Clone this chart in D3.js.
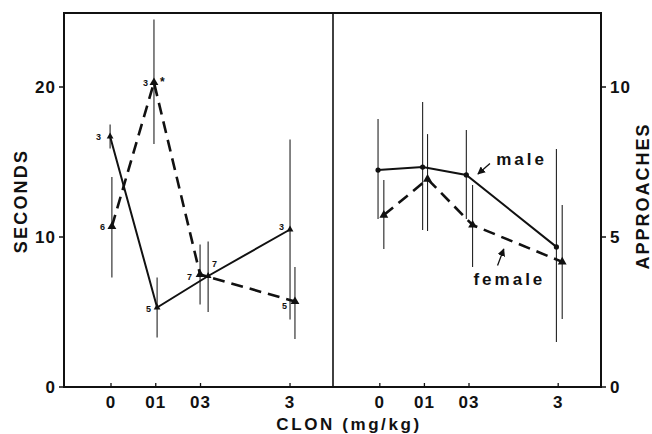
<!DOCTYPE html>
<html>
<head>
<meta charset="utf-8">
<script src="https://cdn.jsdelivr.net/npm/d3@7"></script>
<style>
  html, body { margin: 0; padding: 0; background: #fff; }
  svg { display: block; font-family: "Liberation Sans", Arial, sans-serif; }
</style>
</head>
<body>
<svg id="chart" width="652" height="434"></svg>
<script>
const doseLabels = ["0", "01", "03", "3"];
const doseRank = [0, 1, 2, 4];

// left panel: SECONDS
const secMaleRank = [-0.02, 1.03, 2.17, 4.0];
const secMale = [16.7, 5.3, 7.4, 10.5];
const secMaleLo = [15.9, 3.3, 5.0, 4.5];
const secMaleHi = [17.5, 7.3, 9.7, 16.5];
const secMaleN = ["3", "5", "7", "3"];

const secFemaleRank = [0.02, 0.96, 1.99, 4.11];
const secFemale = [10.7, 20.3, 7.5, 5.7];
const secFemaleLo = [7.3, 16.2, 5.5, 3.2];
const secFemaleHi = [14.0, 24.5, 9.5, 8.0];
const secFemaleN = ["6", "3", "7", "5"];

// right panel: APPROACHES
const appMaleRank = [-0.04, 0.96, 1.94, 3.96];
const appMale = [7.23, 7.33, 7.07, 4.67];
const appMaleLo = [5.6, 5.23, 5.6, 1.5];
const appMaleHi = [8.93, 9.5, 8.57, 7.93];

const appFemaleRank = [0.09, 1.07, 2.08, 4.09];
const appFemale = [5.73, 6.93, 5.4, 4.17];
const appFemaleLo = [4.6, 5.2, 4.0, 2.27];
const appFemaleHi = [6.9, 8.43, 6.73, 6.07];

const secTicks = [0, 10, 20];
const appTicks = [0, 5, 10];

const svg = d3.select("#chart");

const plotTop = 13, plotBottom = 387;
const leftX0 = 64, midX = 333, rightX1 = 601;

const xLeft = d3.scaleLinear().domain([-1.05, 4.96]).range([leftX0, midX]);
const xRight = d3.scaleLinear().domain([-1.05, 4.96]).range([midX, rightX1]);
const ySec = d3.scaleLinear().domain([0, 25]).range([plotBottom, plotTop - 1]);
const yApp = d3.scaleLinear().domain([0, 12.5]).range([plotBottom, plotTop - 1]);

function series(rank, val, lo, hi) {
  return rank.map((r, i) => ({ r, v: val[i], lo: lo[i], hi: hi[i] }));
}

const panels = [
  {
    x: xLeft, y: ySec,
    male: series(secMaleRank, secMale, secMaleLo, secMaleHi),
    female: series(secFemaleRank, secFemale, secFemaleLo, secFemaleHi),
    maleMarker: "tri"
  },
  {
    x: xRight, y: yApp,
    male: series(appMaleRank, appMale, appMaleLo, appMaleHi),
    female: series(appFemaleRank, appFemale, appFemaleLo, appFemaleHi),
    maleMarker: "dot"
  }
];

panels.forEach(p => {
  const g = svg.append("g");
  const line = d3.line().x(d => p.x(d.r)).y(d => p.y(d.v));

  // error bars
  [p.male, p.female].forEach(s => {
    g.selectAll(null).data(s).enter().append("line")
      .attr("x1", d => p.x(d.r)).attr("x2", d => p.x(d.r))
      .attr("y1", d => p.y(d.lo)).attr("y2", d => p.y(d.hi))
      .attr("stroke", "#222").attr("stroke-width", 1.1);
  });

  g.append("path").datum(p.female)
    .attr("d", line).attr("fill", "none")
    .attr("stroke", "#111").attr("stroke-width", 2.6)
    .attr("stroke-dasharray", "12,7");

  g.append("path").datum(p.male)
    .attr("d", line).attr("fill", "none")
    .attr("stroke", "#111").attr("stroke-width", 2);

  g.selectAll(null).data(p.female).enter().append("path")
    .attr("d", d3.symbol(d3.symbolTriangle, 34))
    .attr("transform", d => `translate(${p.x(d.r)},${p.y(d.v)})`)
    .attr("fill", "#111");

  if (p.maleMarker === "dot") {
    g.selectAll(null).data(p.male).enter().append("circle")
      .attr("cx", d => p.x(d.r)).attr("cy", d => p.y(d.v))
      .attr("r", 2.6).attr("fill", "#111");
  } else {
    g.selectAll(null).data(p.male).enter().append("path")
      .attr("d", d3.symbol(d3.symbolTriangle, 20))
      .attr("transform", d => `translate(${p.x(d.r)},${p.y(d.v)})`)
      .attr("fill", "#111");
  }

  // bottom ticks (inside) and labels
  doseRank.forEach((r, i) => {
    g.append("line")
      .attr("x1", p.x(r)).attr("x2", p.x(r))
      .attr("y1", plotBottom).attr("y2", plotBottom - 4)
      .attr("stroke", "#111").attr("stroke-width", 1.3);
    g.append("text")
      .attr("x", p.x(r)).attr("y", plotBottom + 21)
      .attr("text-anchor", "middle")
      .attr("font-size", 17).attr("font-weight", "bold")
      .attr("letter-spacing", 1)
      .attr("fill", "#111")
      .text(doseLabels[i]);
  });
});

// frame
svg.append("path")
  .attr("d", `M${leftX0},${plotTop}H${rightX1}V${plotBottom}H${leftX0}Z`)
  .attr("fill", "none").attr("stroke", "#111").attr("stroke-width", 2);
svg.append("line")
  .attr("x1", midX).attr("x2", midX).attr("y1", plotTop).attr("y2", plotBottom)
  .attr("stroke", "#111").attr("stroke-width", 1.6);

// left axis
secTicks.forEach(t => {
  svg.append("line")
    .attr("x1", leftX0 - 5).attr("x2", leftX0)
    .attr("y1", ySec(t)).attr("y2", ySec(t))
    .attr("stroke", "#111").attr("stroke-width", 1.5);
  svg.append("text")
    .attr("x", leftX0 - 8).attr("y", ySec(t) + 6)
    .attr("text-anchor", "end")
    .attr("font-size", 17).attr("font-weight", "bold")
    .attr("letter-spacing", 1)
    .attr("fill", "#111").text(t);
});

// right axis
appTicks.forEach(t => {
  svg.append("line")
    .attr("x1", rightX1).attr("x2", rightX1 + 5)
    .attr("y1", yApp(t)).attr("y2", yApp(t))
    .attr("stroke", "#111").attr("stroke-width", 1.5);
  svg.append("text")
    .attr("x", rightX1 + 9).attr("y", yApp(t) + 6)
    .attr("text-anchor", "start")
    .attr("font-size", 17).attr("font-weight", "bold")
    .attr("letter-spacing", 1)
    .attr("fill", "#111").text(t);
});

// axis titles
svg.append("text")
  .attr("transform", `translate(27,${(plotTop + plotBottom) / 2 + 1}) rotate(-90)`)
  .attr("text-anchor", "middle")
  .attr("font-size", 18).attr("font-weight", "bold")
  .attr("letter-spacing", 2.2)
  .attr("fill", "#111").text("SECONDS");

svg.append("text")
  .attr("transform", `translate(649,${(plotTop + plotBottom) / 2 - 4}) rotate(-90)`)
  .attr("text-anchor", "middle")
  .attr("font-size", 18).attr("font-weight", "bold")
  .attr("letter-spacing", 2)
  .attr("fill", "#111").text("APPROACHES");

svg.append("text")
  .attr("x", 349).attr("y", 430)
  .attr("text-anchor", "middle")
  .attr("font-size", 17).attr("font-weight", "bold")
  .attr("letter-spacing", 2.6)
  .attr("fill", "#111").text("CLON (mg/kg)");

// n labels, left panel
const nStyleMale = [[-9, 3, "end"], [-6, 4, "end"], [4, -9, "start"], [-6, 0, "end"]];
const nStyleFemale = [[-7, 3, "end"], [-6, 3, "end"], [-8, 5, "end"], [-8, 7, "end"]];
function nLabels(s, labels, style) {
  s.forEach((d, i) => {
    svg.append("text")
      .attr("x", xLeft(d.r) + style[i][0])
      .attr("y", ySec(d.v) + style[i][1])
      .attr("text-anchor", style[i][2])
      .attr("font-size", 9).attr("font-weight", "bold")
      .attr("fill", "#111").text(labels[i]);
  });
}
nLabels(panels[0].male, secMaleN, nStyleMale);
nLabels(panels[0].female, secFemaleN, nStyleFemale);
// significance mark at the peak
svg.append("text")
  .attr("x", xLeft(secFemaleRank[1]) + 6).attr("y", ySec(secFemale[1]) + 3)
  .attr("font-size", 12).attr("font-weight", "bold")
  .attr("fill", "#111").text("*");

// male / female notes, right panel
svg.append("defs").append("marker")
  .attr("id", "head").attr("viewBox", "0 0 10 10")
  .attr("refX", 9).attr("refY", 5)
  .attr("markerWidth", 6).attr("markerHeight", 6)
  .attr("orient", "auto")
  .append("path").attr("d", "M0,0L10,5L0,10Z").attr("fill", "#111");

function note(text, tx, tv, fromR, fromV, toR, toV) {
  svg.append("line")
    .attr("x1", xRight(fromR)).attr("y1", yApp(fromV))
    .attr("x2", xRight(toR)).attr("y2", yApp(toV))
    .attr("stroke", "#111").attr("stroke-width", 1.3)
    .attr("marker-end", "url(#head)");
  svg.append("text")
    .attr("x", xRight(tx)).attr("y", yApp(tv))
    .attr("font-size", 17).attr("font-weight", "bold")
    .attr("letter-spacing", 3)
    .attr("fill", "#111").text(text);
}
note("male", 2.61, 7.4, 2.47, 7.45, 2.2, 7.1);
note("female", 2.1, 3.4, 2.64, 4.05, 2.78, 4.6);
</script>
</body>
</html>
